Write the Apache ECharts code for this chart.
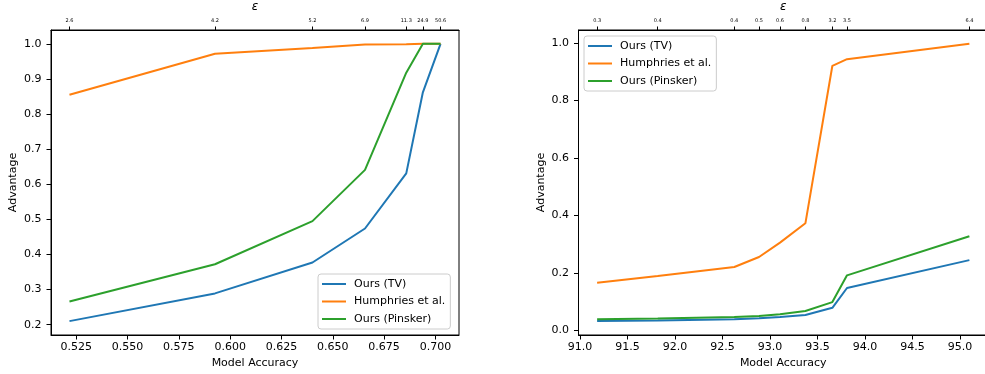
<!DOCTYPE html>
<html>
<head>
<meta charset="utf-8">
<script src="https://cdn.jsdelivr.net/npm/echarts@6/dist/echarts.min.js"></script>
<style>
html,body{margin:0;padding:0;background:#fff;}
#chart{width:985px;height:374px;}
</style>
</head>
<body>
<div id="chart"></div>
<script>
// ---- Left panel data ----
var accLeft = [0.5217, 0.5926, 0.6401, 0.6657, 0.6858, 0.6939, 0.7025];
var epsLeft = ['2.6', '4.2', '5.2', '6.9', '11.3', '24.9', '50.6'];
var tvLeft = [0.210, 0.289, 0.377, 0.474, 0.631, 0.862, 1.0];
var humLeft = [0.855, 0.972, 0.988, 0.998, 0.999, 1.0, 1.0];
var pinLeft = [0.266, 0.372, 0.495, 0.641, 0.918, 1.0, 1.0];
var xTicksLeft = [0.525, 0.550, 0.575, 0.600, 0.625, 0.650, 0.675, 0.700];
var yTicksLeft = [0.2, 0.3, 0.4, 0.5, 0.6, 0.7, 0.8, 0.9, 1.0];

// ---- Right panel data ----
var accRight = [91.18, 91.818, 92.624, 92.884, 93.105, 93.372, 93.656, 93.81, 95.098];
var epsRight = ['0.3', '0.4', '0.4', '0.5', '0.6', '0.8', '3.2', '3.5', '6.4'];
var tvRight = [0.032, 0.034, 0.038, 0.042, 0.046, 0.053, 0.078, 0.147, 0.244];
var humRight = [0.165, 0.189, 0.220, 0.255, 0.305, 0.372, 0.920, 0.943, 0.997];
var pinRight = [0.038, 0.041, 0.046, 0.050, 0.056, 0.067, 0.098, 0.191, 0.327];
var xTicksRight = [91.0, 91.5, 92.0, 92.5, 93.0, 93.5, 94.0, 94.5, 95.0];
var yTicksRight = [0.0, 0.2, 0.4, 0.6, 0.8, 1.0];

var seriesNames = ['Ours (TV)', 'Humphries et al.', 'Ours (Pinsker)'];
var colors = ['#1f77b4', '#ff7f0e', '#2ca02c'];

function zip(xs, ys) { return xs.map(function (x, i) { return [x, ys[i]]; }); }

var FONT = 'DejaVu Sans';
var black = '#000';

function bottomAxis(grid, min, max, ticks, dec) {
  return {
    type: 'value', gridIndex: grid, position: 'bottom', min: min, max: max,
    name: 'Model Accuracy', nameLocation: 'middle', nameGap: 23,
    nameTextStyle: { fontFamily: FONT, fontSize: 11, color: black },
    axisLine: { show: true, onZero: false, lineStyle: { color: black, width: 1 } },
    axisTick: { show: true, length: 4.5, customValues: ticks, lineStyle: { color: black } },
    axisLabel: { customValues: ticks, margin: 7, fontFamily: FONT, fontSize: 11, color: black,
      formatter: function (v) { return v.toFixed(dec); } },
    splitLine: { show: false }
  };
}
function topAxis(grid, min, max, acc, eps) {
  return {
    type: 'value', gridIndex: grid, position: 'top', min: min, max: max,
    name: 'ε', nameLocation: 'middle', nameGap: 14,
    nameTextStyle: { fontFamily: FONT, fontSize: 12, fontStyle: 'italic', color: black },
    axisLine: { show: true, onZero: false, lineStyle: { color: black, width: 1 } },
    axisTick: { show: true, length: 3.5, customValues: acc, lineStyle: { color: black } },
    axisLabel: { customValues: acc, margin: 7, fontFamily: FONT, fontSize: 5, color: black,
      formatter: function (v) {
        var best = 0, bd = Infinity;
        for (var i = 0; i < acc.length; i++) { var d = Math.abs(acc[i] - v); if (d < bd) { bd = d; best = i; } }
        return eps[best];
      } },
    splitLine: { show: false }
  };
}
function leftAxis(grid, min, max, ticks) {
  return {
    type: 'value', gridIndex: grid, min: min, max: max,
    name: 'Advantage', nameLocation: 'middle', nameGap: 32, nameRotate: 90,
    nameTextStyle: { fontFamily: FONT, fontSize: 11, color: black },
    axisLine: { show: true, onZero: false, lineStyle: { color: black, width: 1 } },
    axisTick: { show: true, length: 4.5, customValues: ticks, lineStyle: { color: black } },
    axisLabel: { customValues: ticks, margin: 9.5, fontFamily: FONT, fontSize: 11, color: black,
      formatter: function (v) { return v.toFixed(1); } },
    splitLine: { show: false }
  };
}
function mkSeries(name, xs, ys, idx, color) {
  return {
    name: name, type: 'line', xAxisIndex: idx, yAxisIndex: idx,
    data: zip(xs, ys), showSymbol: false, symbol: 'none', animation: false,
    lineStyle: { color: color, width: 2 }, itemStyle: { color: color }, z: 3
  };
}
function legend(left, top) {
  return {
    left: left, top: top, orient: 'vertical', data: seriesNames,
    icon: 'rect', itemWidth: 24, itemHeight: 2, itemGap: 3.5,
    padding: [3, 5, 3, 4],
    backgroundColor: 'rgba(255,255,255,0.8)', borderColor: '#cccccc', borderWidth: 1, borderRadius: 3,
    textStyle: { fontFamily: FONT, fontSize: 11, color: black, lineHeight: 14, padding: [0, 0, 0, 3] },
    selectedMode: false
  };
}

var chart = echarts.init(document.getElementById('chart'), null, { renderer: 'canvas' });
chart.setOption({
  animation: false,
  backgroundColor: '#fff',
  grid: [
    { left: 51, top: 30, width: 408, height: 305, show: true, borderColor: black, borderWidth: 1, backgroundColor: 'transparent', containLabel: false, outerBoundsMode: 'none' },
    { left: 578.5, top: 30, width: 409.5, height: 305, show: true, borderColor: black, borderWidth: 1, backgroundColor: 'transparent', containLabel: false, outerBoundsMode: 'none' }
  ],
  xAxis: [
    bottomAxis(0, 0.5127, 0.7115, xTicksLeft, 3),
    bottomAxis(1, 90.984, 95.294, xTicksRight, 1),
    topAxis(0, 0.5127, 0.7115, accLeft, epsLeft),
    topAxis(1, 90.984, 95.294, accRight, epsRight)
  ],
  yAxis: [
    leftAxis(0, 0.1705, 1.0395, yTicksLeft),
    leftAxis(1, -0.0165, 1.0445, yTicksRight)
  ],
  legend: [legend(318, 274), legend(584, 36)],
  series: [
    mkSeries(seriesNames[0], accLeft, tvLeft, 0, colors[0]),
    mkSeries(seriesNames[1], accLeft, humLeft, 0, colors[1]),
    mkSeries(seriesNames[2], accLeft, pinLeft, 0, colors[2]),
    mkSeries(seriesNames[0], accRight, tvRight, 1, colors[0]),
    mkSeries(seriesNames[1], accRight, humRight, 1, colors[1]),
    mkSeries(seriesNames[2], accRight, pinRight, 1, colors[2])
  ]
});
</script>
</body>
</html>
